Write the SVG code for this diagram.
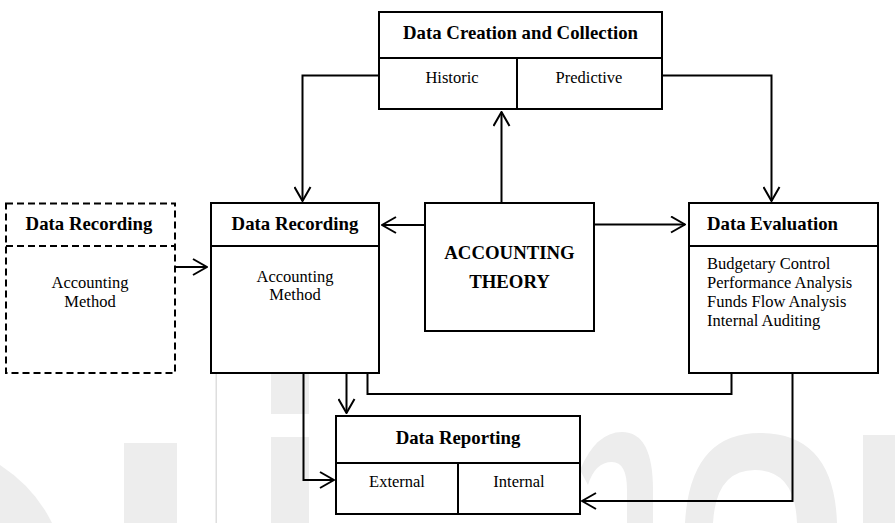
<svg xmlns="http://www.w3.org/2000/svg" width="895" height="523" viewBox="0 0 895 523">
<style>
.box{fill:#fff;stroke:#000;stroke-width:2}
.dash{fill:none;stroke:#000;stroke-width:2;stroke-dasharray:7 4}
.ln{fill:none;stroke:#000;stroke-width:2}
.t{font-family:"Liberation Serif","Times New Roman",serif;fill:#000}
.b{font-weight:bold;font-size:18.8px}
.r{font-size:16.5px}
.wm{fill:#ededed;stroke:none}
</style>
<defs>
<marker id="ah" viewBox="0 0 16 18" refX="15" refY="9" markerWidth="16" markerHeight="18" markerUnits="userSpaceOnUse" orient="auto">
<path d="M1,1 L15,9 L1,17" fill="none" stroke="#000" stroke-width="2"/>
</marker>
</defs>
<rect width="895" height="523" fill="#fff"/>
<g id="watermark">
<path class="wm" d="M0,465 Q35,488 52,523 L0,523 Z"/>
<rect class="wm" x="124" y="443" width="53" height="80"/>
<rect x="215.5" y="373" width="1.5" height="150" fill="#dedede"/>
<rect class="wm" x="271" y="374" width="38" height="40"/>
<rect class="wm" x="271" y="437" width="38" height="86"/>
<path class="wm" d="M580,470 Q596,432 622,432 Q653,432 653,490 L653,523 L627,523 L627,490 Q627,462 612,462 Q595,462 588,485 Z"/>
<path class="wm" fill-rule="evenodd" d="M685,523 Q690,433 760,433 Q834,433 837,523 Z M713,523 Q716,470 755,470 Q795,470 797,523 Z"/>
<rect class="wm" x="863" y="435" width="32" height="88"/>
</g>
<g id="connectors">
<path class="ln" d="M379,75.5 H302.5 V201" marker-end="url(#ah)"/>
<path class="ln" d="M662,75.5 H771.5 V201" marker-end="url(#ah)"/>
<path class="ln" d="M501.5,203 V112" marker-end="url(#ah)"/>
<path class="ln" d="M425,225 H382" marker-end="url(#ah)"/>
<path class="ln" d="M594,224.5 H685" marker-end="url(#ah)"/>
<path class="ln" d="M175,267 H207" marker-end="url(#ah)"/>
<path class="ln" d="M303.5,373 V480 H334" marker-end="url(#ah)"/>
<path class="ln" d="M346.5,373 V413" marker-end="url(#ah)"/>
<path class="ln" d="M367.5,373 V394 H731.5 V373"/>
<path class="ln" d="M792.5,373 V501 H582" marker-end="url(#ah)"/>
</g>
<g id="data-creation">
<rect class="box" x="379" y="12" width="283" height="97"/>
<line class="ln" x1="379" y1="58" x2="662" y2="58"/>
<line class="ln" x1="517" y1="58" x2="517" y2="109"/>
<text class="t b" x="520.5" y="39" text-anchor="middle">Data Creation and Collection</text>
<text class="t r" x="452" y="83" text-anchor="middle">Historic</text>
<text class="t r" x="589" y="83" text-anchor="middle">Predictive</text>
</g>
<g id="data-recording-dashed">
<rect class="dash" x="6" y="203.5" width="169" height="169.5"/>
<line class="dash" x1="6" y1="246" x2="175" y2="246"/>
<text class="t b" x="89" y="230" text-anchor="middle">Data Recording</text>
<text class="t r" x="90" y="288" text-anchor="middle">Accounting</text>
<text class="t r" x="90" y="307" text-anchor="middle">Method</text>
</g>
<g id="data-recording">
<rect class="box" x="211" y="203" width="168" height="170"/>
<line class="ln" x1="211" y1="246" x2="379" y2="246"/>
<text class="t b" x="295" y="230" text-anchor="middle">Data Recording</text>
<text class="t r" x="295" y="282" text-anchor="middle">Accounting</text>
<text class="t r" x="295" y="300" text-anchor="middle">Method</text>
</g>
<g id="accounting-theory">
<rect class="box" x="425" y="203" width="169" height="128"/>
<text class="t b" x="509.5" y="259" text-anchor="middle">ACCOUNTING</text>
<text class="t b" x="509.5" y="288" text-anchor="middle">THEORY</text>
</g>
<g id="data-evaluation">
<rect class="box" x="689" y="203" width="189" height="170"/>
<line class="ln" x1="689" y1="246" x2="878" y2="246"/>
<text class="t b" x="707" y="230">Data Evaluation</text>
<text class="t r" x="707" y="269">Budgetary Control</text>
<text class="t r" x="707" y="288">Performance Analysis</text>
<text class="t r" x="707" y="307">Funds Flow Analysis</text>
<text class="t r" x="707" y="326">Internal Auditing</text>
</g>
<g id="data-reporting">
<rect class="box" x="336" y="416" width="244" height="98"/>
<line class="ln" x1="336" y1="463" x2="580" y2="463"/>
<line class="ln" x1="458" y1="463" x2="458" y2="514"/>
<text class="t b" x="458" y="444" text-anchor="middle">Data Reporting</text>
<text class="t r" x="397" y="487" text-anchor="middle">External</text>
<text class="t r" x="519" y="487" text-anchor="middle">Internal</text>
</g>
</svg>
